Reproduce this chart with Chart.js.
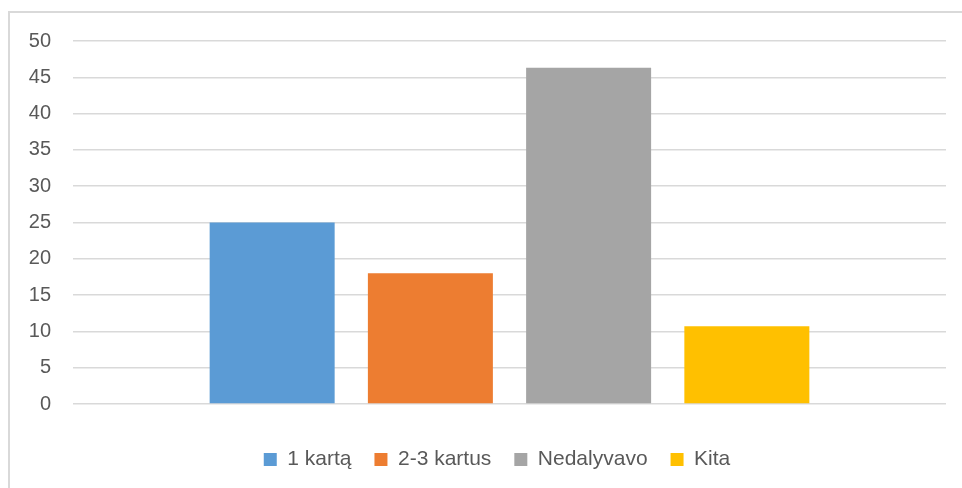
<!DOCTYPE html>
<html>
<head>
<meta charset="utf-8">
<script src="https://cdn.jsdelivr.net/npm/chart.js@4.4.0/dist/chart.umd.min.js"></script>
<style>
  html, body { margin: 0; padding: 0; background: #fff; }
  #wrap { position: relative; width: 962px; height: 488px; overflow: hidden; }
  #frame { position: absolute; left: 8px; top: 11px; width: 1000px; height: 600px;
           border-top: 2px solid #d9d9d9; border-left: 2px solid #d9d9d9; }
  canvas { position: absolute; left: 0; top: 0; }
</style>
</head>
<body>
<div id="wrap">
  <div id="frame"></div>
  <canvas id="myChart" width="962" height="488"></canvas>
</div>
<script>
const categories = [''];
const seriesNames = ['1 kartą', '2-3 kartus', 'Nedalyvavo', 'Kita'];
const seriesValues = [25, 18, 46.3, 10.7];
const seriesColors = ['#5B9BD5', '#ED7D31', '#A5A5A5', '#FFC000'];
const yTicks = [0, 5, 10, 15, 20, 25, 30, 35, 40, 45, 50];

const tickFont = { family: "'Liberation Sans', Arial, sans-serif", size: 20 };
const legendFont = { family: "'Liberation Sans', Arial, sans-serif", size: 21 };

// nudge the legend so it sits centred like the original
const legendShift = {
    id: 'legendShift',
    afterLayout(chart) {
        chart.legend.left += 24;
        chart.legend.right += 24;
    }
};

const myChart = new Chart('myChart', {
    type: 'bar',
    data: {
        labels: categories,
        datasets: seriesNames.map((name, i) => ({
            label: name,
            data: [seriesValues[i]],
            backgroundColor: seriesColors[i],
            borderWidth: 0,
            categoryPercentage: 0.725,
            barPercentage: 0.79
        }))
    },
    options: {
        responsive: false,
        animation: false,
        layout: { padding: { top: 41, right: 16, left: 0, bottom: 8 } },
        plugins: {
            tooltip: { enabled: false },
            legend: {
                position: 'bottom',
                labels: {
                    font: legendFont,
                    color: '#595959',
                    boxWidth: 13,
                    boxHeight: 13,
                    padding: 23
                }
            }
        },
        scales: {
            x: {
                grid: { display: false },
                border: { display: false },
                ticks: { display: false },
                afterFit: (axis) => { axis.height = 22; }
            },
            y: {
                min: 0,
                max: 50,
                afterBuildTicks: (axis) => { axis.ticks = yTicks.map(v => ({ value: v })); },
                afterFit: (axis) => { axis.width = 73; },
                grid: { color: '#d9d9d9', lineWidth: 1.5, drawTicks: false },
                border: { display: false },
                ticks: { font: tickFont, color: '#595959', padding: 22 }
            }
        }
    },
    plugins: [legendShift]
});
</script>
</body>
</html>
